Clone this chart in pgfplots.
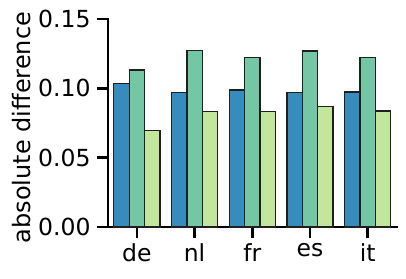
\documentclass[border=0pt]{standalone}
\usepackage{pgfplots}
\pgfplotsset{compat=1.18}
\usepackage{fontspec}
\setmainfont{DejaVu Sans}
\definecolor{cblue}{RGB}{55,140,190}
\definecolor{cgreen}{RGB}{116,199,164}
\definecolor{clight}{RGB}{194,230,155}
\begin{document}
\begin{tikzpicture}
\begin{axis}[
  scale only axis,
  width=288.5pt, height=208pt,
  xmin=-0.5, xmax=4.5, ymin=0, ymax=0.15,
  axis x line*=bottom, axis y line*=left,
  axis line style={line width=2.6pt, line cap=rect},
  every tick/.style={line width=2.6pt, black},
  major tick length=11pt,
  tick align=outside,
  xtick={0,1,2,3,4},
  xticklabels={de,nl,fr,es,it},
  ytick={0,0.05,0.10,0.15},
  yticklabel style={xshift=-3pt, /pgf/number format/.cd, fixed, fixed zerofill, precision=2},
  /pgf/number format/assume math mode=true,
  tick label style={font=\fontsize{23.5}{27}\selectfont},
  xticklabel style={yshift=-2pt},
  label style={font=\fontsize{24}{28}\selectfont},
  ylabel={absolute difference},
  ylabel style={at={(axis description cs:-0.268,0.478)}, anchor=base},
  ybar, bar width=0.26667,
  every axis plot/.append style={draw=black!88, line width=1.3pt},
  clip=false,
]
\addplot[fill=cblue, bar shift=-0.26667] coordinates {(0,0.1036) (1,0.0969) (2,0.0988) (3,0.0969) (4,0.0974)};
\addplot[fill=cgreen, bar shift=0] coordinates {(0,0.1132) (1,0.1272) (2,0.1224) (3,0.1269) (4,0.1224)};
\addplot[fill=clight, bar shift=0.26667] coordinates {(0,0.0695) (1,0.0832) (2,0.0834) (3,0.0870) (4,0.0837)};
\end{axis}
\path (-108pt,-51pt) rectangle (298pt,227pt);
\end{tikzpicture}
\end{document}
